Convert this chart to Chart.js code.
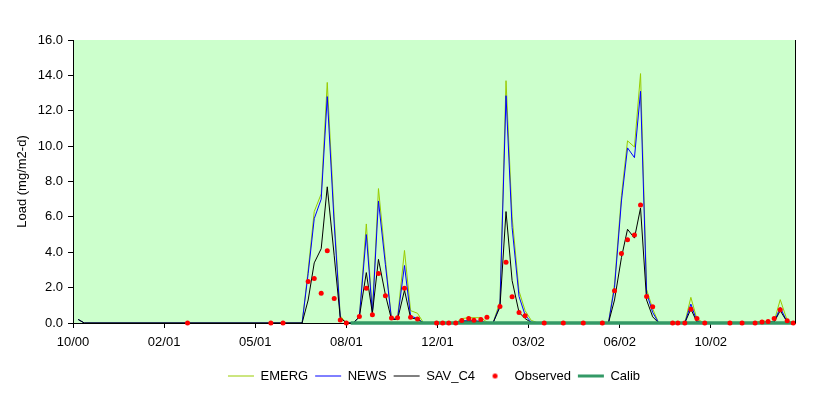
<!DOCTYPE html>
<html><head><meta charset="utf-8">
<script src="https://cdn.jsdelivr.net/npm/chart.js@4"></script>
<style>html,body{margin:0;padding:0;background:#fff}</style>
</head><body>
<canvas id="c" width="829" height="396"></canvas>
<script>
// x values are days since the start of the axis (10/00)
const tickDays = [0, 105, 210, 315, 420, 525, 630, 735];
const tickLabels = ['10/00', '02/01', '05/01', '08/01', '12/01', '03/02', '06/02', '10/02'];

const lineDays = [6, 13, 264, 271, 278, 286, 293, 301, 308, 315,
  323, 330, 338, 345, 352, 360, 367, 374, 382, 389,
  397, 404, 441, 448, 456, 462, 470, 477, 484, 492,
  499, 506, 514, 521, 528, 536, 617, 624, 632, 639,
  647, 654, 661, 668, 675, 705, 712, 719, 728, 786,
  794, 801, 808, 815, 823, 830];

const emerg = [0.2, 0, 0, 3.0, 6.3, 7.3, 13.6, 6.0, 0.4, 0,
  0, 0.35, 5.6, 0.6, 7.6, 3.6, 0.25, 0.3, 4.1, 0.7,
  0.55, 0, 0, 0.25, 0.3, 0.3, 0.3, 0.05, 0, 1.2,
  13.7, 6.0, 1.8, 0.7, 0.15, 0, 0, 2.2, 7.2, 10.3,
  9.95, 14.1, 1.9, 0.8, 0, 0, 1.45, 0.22, 0, 0,
  0.15, 0.05, 0.1, 1.32, 0.15, 0];

const news = [0.2, 0, 0, 2.8, 5.9, 7.0, 12.8, 5.6, 0.3, 0,
  0, 0.35, 5.0, 0.55, 6.9, 3.3, 0.22, 0.25, 3.25, 0.4,
  0.25, 0, 0, 0.12, 0.12, 0.12, 0.1, 0, 0, 1.0,
  12.85, 5.4, 1.5, 0.45, 0.05, 0, 0, 2.0, 6.9, 9.9,
  9.35, 13.1, 1.7, 0.6, 0, 0, 1.07, 0.1, 0, 0,
  0.03, 0.05, 0.05, 0.88, 0.05, 0];

const savC4 = [0.2, 0, 0, 1.3, 3.4, 4.2, 7.7, 3.8, 0.3, 0,
  0, 0.35, 2.85, 0.55, 3.6, 1.6, 0.2, 0.2, 1.85, 0.3,
  0.2, 0, 0, 0.1, 0.1, 0.1, 0.08, 0, 0, 0.9,
  6.3, 2.4, 0.6, 0.25, 0.03, 0, 0, 1.3, 3.7, 5.3,
  4.8, 6.5, 1.3, 0.35, 0, 0, 0.79, 0.05, 0, 0,
  0.03, 0.05, 0.05, 0.7, 0.05, 0];

const obsDays = [132, 228, 242, 271, 278, 286, 293, 301, 308, 315,
  330, 338, 345, 352, 360, 367, 374, 382, 389, 397,
  419, 426, 433, 441, 448, 456, 462, 470, 477, 492,
  499, 506, 514, 521, 543, 565, 588, 610, 624, 632,
  639, 647, 654, 661, 668, 691, 697, 705, 712, 719,
  728, 757, 771, 786, 794, 801, 808, 815, 823, 830];

const observed = [0, 0, 0, 2.35, 2.52, 1.68, 4.09, 1.39, 0.17, 0,
  0.37, 1.96, 0.47, 2.8, 1.54, 0.28, 0.3, 1.96, 0.32, 0.22,
  0, 0, 0, 0, 0.14, 0.25, 0.15, 0.2, 0.32, 0.93,
  3.43, 1.49, 0.6, 0.41, 0, 0, 0, 0, 1.83, 3.93,
  4.71, 4.97, 6.67, 1.5, 0.92, 0, 0, 0, 0.78, 0.26,
  0, 0, 0, 0, 0.05, 0.09, 0.26, 0.75, 0.13, 0];

const calibDays = [320, 832];
const calib = [0, 0];

const toXY = (xs, ys) => xs.map((x, i) => ({x: x, y: ys[i]}));
const FONT = {family: '"Liberation Sans", Arial, sans-serif', size: 13};

const dot = document.createElement('canvas');
dot.width = 7; dot.height = 7;
(function(){ const g = dot.getContext('2d'); g.fillStyle = '#FF0000'; g.beginPath(); g.arc(3.5, 3.5, 2.5, 0, Math.PI * 2); g.fill(); })();

const bgPlugin = {
  id: 'bg',
  beforeDraw(chart) {
    const {ctx, chartArea: a} = chart;
    ctx.save();
    ctx.fillStyle = '#FFFFFF';
    ctx.fillRect(0, 0, chart.width, chart.height);
    ctx.fillStyle = '#CCFFCC';
    ctx.fillRect(a.left, a.top, a.right - a.left, a.bottom - a.top);
    ctx.restore();
  },
  afterDraw(chart) {
    const {ctx, chartArea: a} = chart;
    ctx.save();
    ctx.strokeStyle = '#000';
    ctx.lineWidth = 1;
    ctx.beginPath();
    ctx.moveTo(Math.round(a.right) + 0.5, a.top);
    ctx.lineTo(Math.round(a.right) + 0.5, a.bottom);
    ctx.stroke();
    ctx.restore();
  }
};

new Chart(document.getElementById('c'), {
  type: 'line',
  data: {
    datasets: [
      {label: 'EMERG', data: toXY(lineDays, emerg), borderColor: '#99CC00', borderWidth: 1,
       pointRadius: 0, pointStyle: 'line', pointBorderColor: '#99CC00', pointBorderWidth: 1, tension: 0, order: 4},
      {label: 'NEWS', data: toXY(lineDays, news), borderColor: '#0000FF', borderWidth: 1,
       pointRadius: 0, pointStyle: 'line', pointBorderColor: '#0000FF', pointBorderWidth: 1, tension: 0, order: 3},
      {label: 'SAV_C4', data: toXY(lineDays, savC4), borderColor: '#000000', borderWidth: 1,
       pointRadius: 0, pointStyle: 'line', pointBorderColor: '#000000', pointBorderWidth: 1, tension: 0, order: 2},
      {label: 'Observed', data: toXY(obsDays, observed), showLine: false, pointRadius: 2.5, clip: false,
       pointBackgroundColor: '#FF0000', pointBorderColor: '#FF0000', pointBorderWidth: 0, pointStyle: 'circle', order: 0},
      {label: 'Calib', data: toXY(calibDays, calib), borderColor: '#339966', borderWidth: 3.5, borderCapStyle: 'butt', clip: false,
       pointRadius: 0, pointStyle: 'line', pointBorderColor: '#339966', pointBorderWidth: 3, tension: 0, order: 1}
    ]
  },
  options: {
    responsive: false,
    animation: false,
    devicePixelRatio: 1,
    events: [],
    layout: {padding: {left: 0, right: 34, top: 40, bottom: 3.5}},
    plugins: {
      tooltip: {enabled: false},
      legend: {
        position: 'bottom',
        fullSize: false,
        labels: {
          usePointStyle: true,
          pointStyleWidth: 26,
          padding: 7,
          color: '#000',
          font: FONT,
          sort: (a, b) => a.datasetIndex - b.datasetIndex,
          generateLabels(chart) {
            const items = Chart.defaults.plugins.legend.labels.generateLabels(chart);
            items.forEach(it => { if (it.text === 'Observed') it.pointStyle = dot; });
            return items;
          }
        }
      }
    },
    scales: {
      x: {
        type: 'linear', min: 0, max: 832,
        afterBuildTicks(s) { s.ticks = tickDays.map(v => ({value: v})); },
        afterFit(s) { s.height = 39.5; },
        ticks: {autoSkip: false, maxRotation: 0, minRotation: 0, padding: 7, color: '#000', font: FONT,
                callback: (v) => tickLabels[tickDays.indexOf(v)]},
        grid: {drawOnChartArea: false, drawTicks: true, tickLength: 5, color: '#000'},
        border: {display: true, color: '#000', width: 1}
      },
      y: {
        min: 0, max: 16,
        afterFit(s) { s.width = 73; },
        ticks: {stepSize: 2, padding: 5, color: '#000', font: FONT, callback: (v) => Number(v).toFixed(1)},
        grid: {drawOnChartArea: false, drawTicks: true, tickLength: 5, color: '#000'},
        border: {display: true, color: '#000', width: 1},
        title: {display: true, text: 'Load (mg/m2-d)', color: '#000', font: FONT, padding: {top: 14.7, bottom: 0}}
      }
    }
  },
  plugins: [bgPlugin]
});
</script>
</body></html>
